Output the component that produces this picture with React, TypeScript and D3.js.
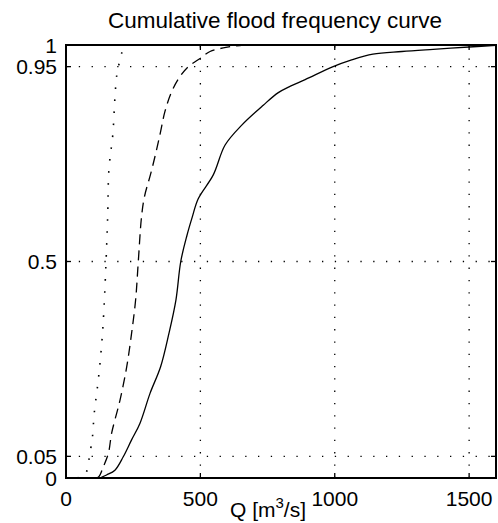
import React from "react";
import * as d3 from "d3";

const TITLE = "Cumulative flood frequency curve";
const X_TICKS = [0, 500, 1000, 1500];
const Y_TICKS = [0, 0.05, 0.5, 0.95, 1];
const X_GRID = [500, 1000, 1500];
const Y_GRID = [0.05, 0.5, 0.95];

const SOLID_Q = [126, 151, 182, 213, 244, 275, 313, 352, 383, 409, 427, 450, 470, 492, 548, 592, 654, 734, 790, 835, 890, 994, 1060, 1142, 1250, 1366, 1515, 1600];
const SOLID_P = [0, 0.007, 0.018, 0.049, 0.088, 0.126, 0.196, 0.257, 0.334, 0.411, 0.5, 0.56, 0.603, 0.645, 0.7, 0.769, 0.815, 0.861, 0.89, 0.905, 0.92, 0.95, 0.965, 0.979, 0.985, 0.99, 0.996, 0.999];

const DASHED_Q = [112, 122, 139, 158, 170, 201, 226, 244, 259, 269, 281, 292, 314, 334, 352, 368, 393, 424, 455, 499, 536, 610, 660];
const DASHED_P = [0, 0.003, 0.026, 0.058, 0.104, 0.18, 0.257, 0.334, 0.411, 0.5, 0.603, 0.65, 0.7, 0.75, 0.8, 0.846, 0.892, 0.927, 0.95, 0.969, 0.985, 0.996, 1.0];

const DOTTED_Q = [41, 60, 74, 83, 89, 98, 105, 120, 133, 141, 149, 155, 160, 174, 182, 189, 198, 207, 238];
const DOTTED_P = [0, 0.004, 0.011, 0.034, 0.057, 0.092, 0.149, 0.226, 0.311, 0.388, 0.5, 0.603, 0.715, 0.792, 0.877, 0.931, 0.958, 0.981, 1.0];

const W = 498;
const H = 523;
const M = { left: 66, right: 2, top: 45, bottom: 45 };
const FONT = "'Liberation Sans', Arial, Helvetica, sans-serif";

export default function App() {
  const x = d3.scaleLinear().domain([0, 1600]).range([M.left, W - M.right]);
  const y = d3.scaleLinear().domain([0, 1]).range([H - M.bottom, M.top]);
  const line = d3
    .line<[number, number]>()
    .x((d) => x(d[0]))
    .y((d) => y(d[1]))
    .curve(d3.curveCatmullRom.alpha(0.5));
  const zip = (a: number[], b: number[]) => a.map((v, i) => [v, b[i]] as [number, number]);

  const x0 = x(0), x1 = x(1600), y0 = y(0), y1 = y(1);
  const tl = 5;

  return (
    <svg width={W} height={H} style={{ position: "absolute", left: 0, top: 0, background: "#fff" }}>
      <rect x={0} y={0} width={W} height={H} fill="#fff" />
      <text x={275} y={28} textAnchor="middle" fontFamily={FONT} fontSize={22.5} fill="#000">
        {TITLE}
      </text>
      {X_GRID.map((v) => (
        <line key={"xg" + v} x1={x(v)} x2={x(v)} y1={y0} y2={y1} stroke="#000" strokeWidth={1.3} strokeDasharray="1.3 11" />
      ))}
      {Y_GRID.map((v) => (
        <line key={"yg" + v} x1={x0} x2={x1} y1={y(v)} y2={y(v)} stroke="#000" strokeWidth={1.3} strokeDasharray="1.3 11.5" />
      ))}
      <path d={line(zip(SOLID_Q, SOLID_P)) || ""} fill="none" stroke="#000" strokeWidth={1.3} />
      <path d={line(zip(DASHED_Q, DASHED_P)) || ""} fill="none" stroke="#000" strokeWidth={1.3} strokeDasharray="10 6" />
      <path d={line(zip(DOTTED_Q, DOTTED_P)) || ""} fill="none" stroke="#000" strokeWidth={1.6} strokeDasharray="1.6 10.4" />
      {X_TICKS.map((v) => (
        <g key={"xt" + v}>
          <line x1={x(v)} x2={x(v)} y1={y0} y2={y0 - tl} stroke="#000" strokeWidth={1.3} />
          <line x1={x(v)} x2={x(v)} y1={y1} y2={y1 + tl} stroke="#000" strokeWidth={1.3} />
          <text x={x(v)} y={506} textAnchor="middle" fontFamily={FONT} fontSize={21} fill="#000">
            {v}
          </text>
        </g>
      ))}
      {Y_TICKS.map((v) => (
        <g key={"yt" + v}>
          <line x1={x0} x2={x0 + tl} y1={y(v)} y2={y(v)} stroke="#000" strokeWidth={1.3} />
          <line x1={x1} x2={x1 - tl} y1={y(v)} y2={y(v)} stroke="#000" strokeWidth={1.3} />
          <text x={57} y={y(v)} dy="0.36em" textAnchor="end" fontFamily={FONT} fontSize={21} fill="#000">
            {v}
          </text>
        </g>
      ))}
      <rect x={x0} y={y1} width={x1 - x0} height={y0 - y1} fill="none" stroke="#000" strokeWidth={2} />
      <text x={268} y={517} textAnchor="middle" fontFamily={FONT} fontSize={21} fill="#000">
        Q [m<tspan dy={-9} fontSize={15}>3</tspan>
        <tspan dy={9}>/s]</tspan>
      </text>
    </svg>
  );
}
